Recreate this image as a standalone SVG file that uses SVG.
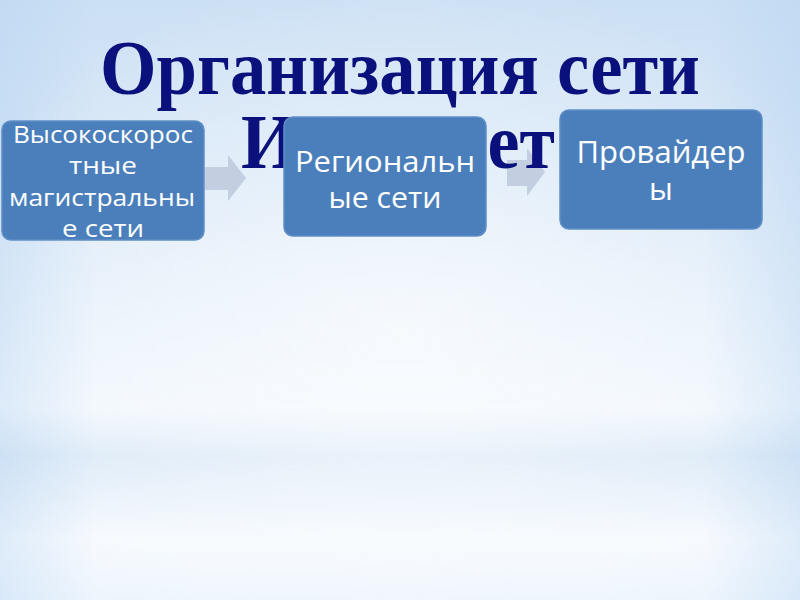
<svg xmlns="http://www.w3.org/2000/svg" width="800" height="600" viewBox="0 0 800 600">
  <defs>
    <linearGradient id="bg" x1="0" y1="0" x2="0" y2="1">
      <stop offset="0" stop-color="#cce0f4"/>
      <stop offset="0.35" stop-color="#dceaf8"/>
      <stop offset="0.68" stop-color="#f1f7fd"/>
      <stop offset="0.76" stop-color="#dbe9f7"/>
      <stop offset="0.9" stop-color="#f6fafe"/>
      <stop offset="1" stop-color="#edf5fd"/>
    </linearGradient>
    <radialGradient id="glow" cx="0.5" cy="0.55" r="0.6">
      <stop offset="0" stop-color="#ffffff" stop-opacity="0.6"/>
      <stop offset="1" stop-color="#ffffff" stop-opacity="0"/>
    </radialGradient>
    <linearGradient id="side" x1="0" y1="0" x2="1" y2="0">
      <stop offset="0" stop-color="#a9cbef" stop-opacity="0.3"/>
      <stop offset="0.12" stop-color="#a9cbef" stop-opacity="0"/>
      <stop offset="0.88" stop-color="#a9cbef" stop-opacity="0"/>
      <stop offset="1" stop-color="#a9cbef" stop-opacity="0.3"/>
    </linearGradient>
  </defs>
  <style>
    .title { font-family: "Liberation Serif", "Times New Roman", serif; font-weight: bold; font-size: 78px; fill: #0a117c; }
    .box { fill: #4b7fbc; stroke: #5f8fc6; stroke-width: 1.5; }
    .lbl { font-family: "Open Sans", "Noto Sans", sans-serif; fill: #ffffff; text-anchor: middle; }
    .s1 { font-size: 24px; }
    .s2 { font-size: 29px; }
    .arrow { fill: #c3cfe0; }
  </style>
  <rect x="0" y="0" width="800" height="600" fill="url(#bg)"/>
  <rect x="0" y="0" width="800" height="600" fill="url(#glow)"/>
  <rect x="0" y="0" width="800" height="600" fill="url(#side)"/>

  <g id="connectors">
    <polygon class="arrow" points="205,167 228,167 228,155 246,178 228,201 228,190 205,190"/>
    <polygon class="arrow" points="507,160 527,160 527,148 545,172 527,196 527,186 507,186"/>
  </g>

  <g id="title">
    <text class="title" x="400" y="94" text-anchor="middle" textLength="600" lengthAdjust="spacingAndGlyphs">Организация сети</text>
    <text class="title" x="398" y="168" text-anchor="middle" textLength="314" lengthAdjust="spacingAndGlyphs">Интернет</text>
  </g>

  <g id="node1">
    <rect class="box" x="2" y="121" width="202" height="119" rx="9"/>
    <text class="lbl s1" x="103" y="143" textLength="180" lengthAdjust="spacingAndGlyphs">Высокоскорос</text>
    <text class="lbl s1" x="103" y="174" textLength="68" lengthAdjust="spacingAndGlyphs">тные</text>
    <text class="lbl s1" x="102" y="206" textLength="186" lengthAdjust="spacingAndGlyphs">магистральны</text>
    <text class="lbl s1" x="103" y="237" textLength="82" lengthAdjust="spacingAndGlyphs">е сети</text>
  </g>

  <g id="node2">
    <rect class="box" x="284" y="117" width="202" height="119" rx="9"/>
    <text class="lbl s2" x="385" y="172" textLength="180" lengthAdjust="spacingAndGlyphs">Региональн</text>
    <text class="lbl s2" x="385" y="208" textLength="113" lengthAdjust="spacingAndGlyphs">ые сети</text>
  </g>

  <g id="node3">
    <rect class="box" x="560" y="110" width="202" height="119" rx="9"/>
    <text class="lbl" font-size="31" x="661" y="163">Провайдер</text>
    <text class="lbl" font-size="31" x="661" y="200">ы</text>
  </g>
</svg>
